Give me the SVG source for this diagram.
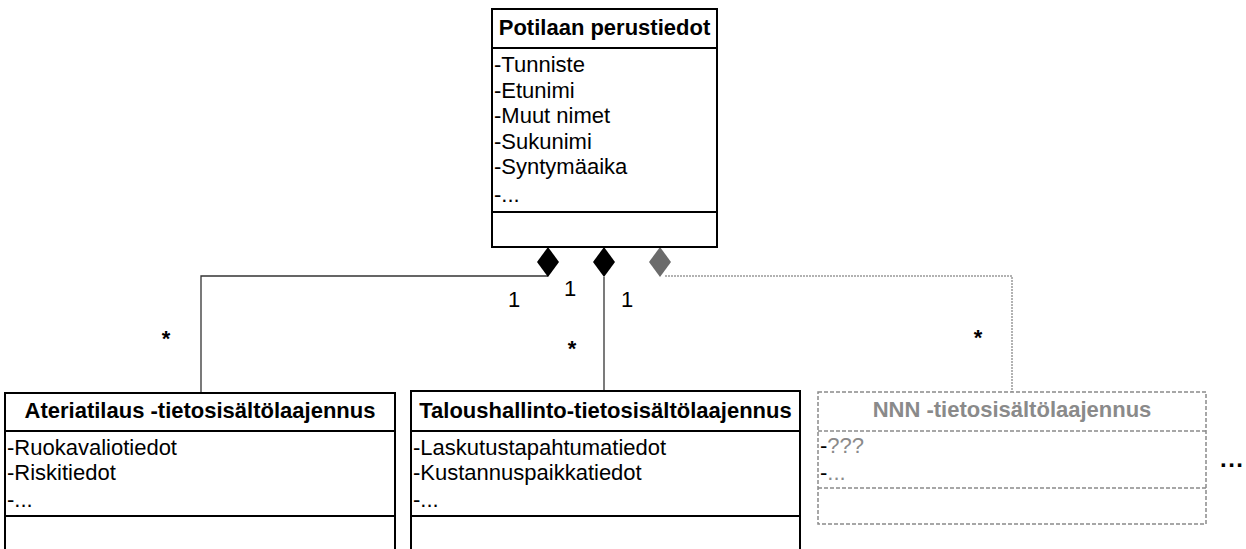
<svg xmlns="http://www.w3.org/2000/svg" width="1246" height="549" viewBox="0 0 1246 549">
<style>
text{font-family:"Liberation Sans",Arial,sans-serif;font-size:22px;fill:#000}
.t{font-weight:bold;text-anchor:middle}
.box{fill:#fff;stroke:#000;stroke-width:2}
.sep{stroke:#000;stroke-width:2}
.gbox{fill:#fff;stroke:#8a8a8a;stroke-width:1.5;stroke-dasharray:4 2}
.gsep{stroke:#8a8a8a;stroke-width:1.5;stroke-dasharray:4 2}
.g{fill:#8a8a8a}
.conn{fill:none;stroke:#333;stroke-width:1.3}
.dconn{fill:none;stroke:#999;stroke-width:1.5;stroke-dasharray:2 1}
.m{font-size:22px;text-anchor:middle}
.s{font-size:22px;text-anchor:middle;font-weight:bold}
</style>
<g id="connectors">
<polyline class="conn" points="548,276 201,276 201,393"/>
<polygon points="548,247 559,262 548,277 537,262" fill="#000"/>
<line class="conn" x1="604" y1="277" x2="604" y2="391"/>
<polygon points="604,247 615,262 604,277 593,262" fill="#000"/>
<polyline class="dconn" points="665,276 1012,276 1012,392"/>
<polygon points="660,247 671,262 660,277 649,262" fill="#6b6b6b"/>
<text class="m" x="514" y="307">1</text>
<text class="m" x="570" y="296">1</text>
<text class="m" x="627" y="307">1</text>
<text class="s" x="166" y="346">*</text>
<text class="s" x="572" y="356">*</text>
<text class="s" x="978" y="345">*</text>
</g>
<g id="potilaan-perustiedot">
<rect class="box" x="492" y="9" width="225" height="238"/>
<line class="sep" x1="492" y1="48" x2="717" y2="48"/>
<line class="sep" x1="492" y1="212" x2="717" y2="212"/>
<text class="t" x="604.5" y="35">Potilaan perustiedot</text>
<text x="494" y="72">-Tunniste</text>
<text x="494" y="97.5">-Etunimi</text>
<text x="494" y="123">-Muut nimet</text>
<text x="494" y="148.5">-Sukunimi</text>
<text x="494" y="174">-Syntymäaika</text>
<text x="494" y="202">-...</text>
</g>
<g id="ateriatilaus">
<rect class="box" x="5" y="393" width="390" height="170"/>
<line class="sep" x1="5" y1="431" x2="395" y2="431"/>
<line class="sep" x1="5" y1="516" x2="395" y2="516"/>
<text class="t" x="200" y="418">Ateriatilaus -tietosisältölaajennus</text>
<text x="7" y="455">-Ruokavaliotiedot</text>
<text x="7" y="480">-Riskitiedot</text>
<text x="7" y="507">-...</text>
</g>
<g id="taloushallinto">
<rect class="box" x="411" y="391" width="389" height="172"/>
<line class="sep" x1="411" y1="431" x2="800" y2="431"/>
<line class="sep" x1="411" y1="516" x2="800" y2="516"/>
<text class="t" x="605.5" y="418">Taloushallinto-tietosisältölaajennus</text>
<text x="413" y="455">-Laskutustapahtumatiedot</text>
<text x="413" y="480">-Kustannuspaikkatiedot</text>
<text x="413" y="507">-...</text>
</g>
<g id="nnn">
<rect class="gbox" x="818" y="392" width="388" height="132"/>
<line class="gsep" x1="818" y1="431" x2="1206" y2="431"/>
<line class="gsep" x1="818" y1="488" x2="1206" y2="488"/>
<text class="t g" x="1012" y="417">NNN -tietosisältölaajennus</text>
<text x="820" y="453"><tspan>-</tspan><tspan class="g">???</tspan></text>
<text x="820" y="480"><tspan>-</tspan><tspan class="g">...</tspan></text>
</g>
<g id="more">
<text x="1220" y="467" style="font-size:24px;font-weight:bold;letter-spacing:1.5px">...</text>
</g>
</svg>
